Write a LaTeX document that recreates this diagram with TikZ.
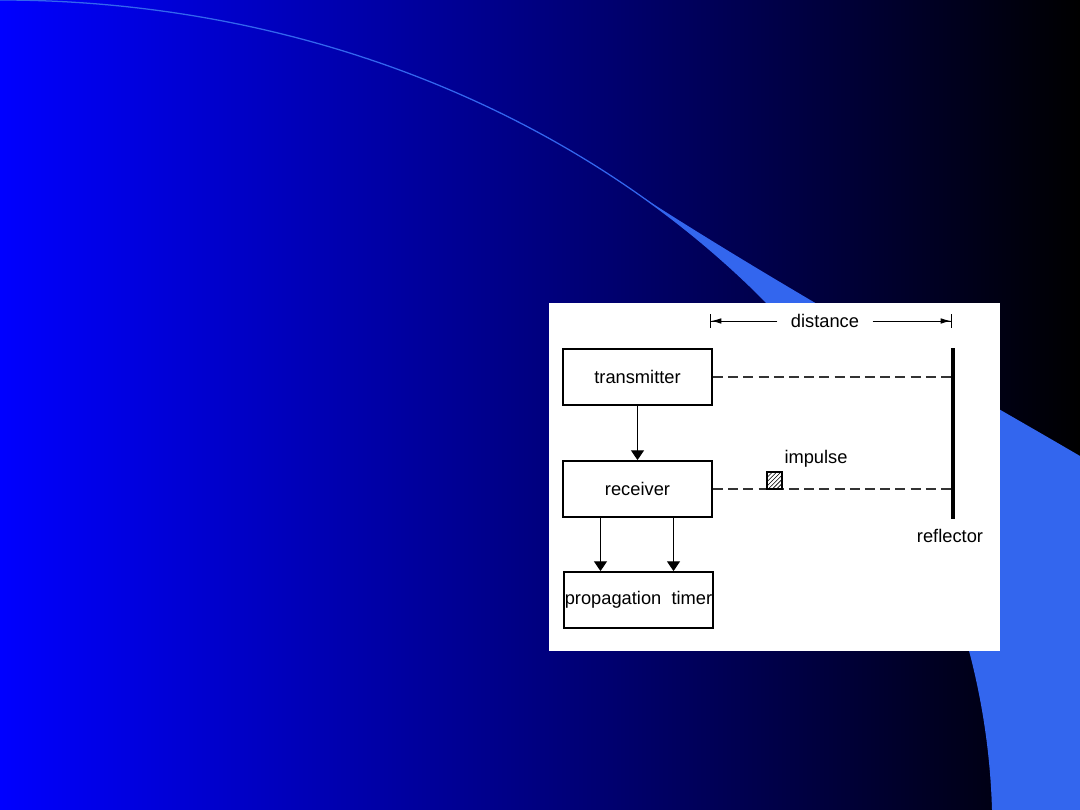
\documentclass[tikz,border=0pt]{standalone}
\usepackage{fontspec}
\setmainfont{Liberation Sans}
\usetikzlibrary{arrows.meta,patterns}
\definecolor{swoosh}{RGB}{51,102,238}

\begin{document}
\begin{tikzpicture}[x=0.025cm, y=-0.025cm,
  every node/.style={font=\fontsize{13}{15}\selectfont},
  unit/.style={draw, line width=1.3pt, fill=white, minimum width=3.725cm, minimum height=1.4cm, inner sep=0pt},
  flow/.style={line width=0.7pt, -{Triangle[width=0.32cm,length=0.24cm]}},
  echo/.style={line width=0.9pt, black!80, dash pattern=on 0.25cm off 0.13cm},
  dimline/.style={line width=0.7pt, -{Latex[length=0.26cm,width=0.14cm]Bar[width=0.33cm]}}]
  \useasboundingbox (0,0) rectangle (1080,810);
  \shade[left color=blue, right color=black] (0,0) rectangle (1080,810);
  \fill[swoosh] (643,197.5) .. controls (790,292) and (950,380) .. (1080,456) -- (1080,810) -- (992.7,810)
    arc[start angle=-1.38, end angle=-49.65, x radius=993, y radius=830] -- cycle;
  \draw[swoosh, line width=0.9pt] (0,0) arc[start angle=-90, end angle=-1.38, x radius=993, y radius=830];
  \fill[white] (549,303) rectangle (1000,651);

  \node[unit] (tx) at (637.5,377) {transmitter};
  \node[unit] (rx) at (637.5,489) {receiver};
  \node[unit] (pt) at (638.5,600) {propagation\ \ timer};
  \draw[flow] (tx) -- (rx);
  \draw[flow] ([xshift=-0.925cm]rx.south) -- ([xshift=-0.925cm]rx.south |- pt.north);
  \draw[flow] ([xshift=0.9cm]rx.south) -- ([xshift=0.9cm]rx.south |- pt.north);

  \coordinate (rtop) at (953,348);
  \coordinate (rbot) at (953,519);
  \draw[echo] (tx.east) -- (tx.east -| rtop);
  \draw[echo] (rx.east) -- (rx.east -| rtop);
  \draw[line width=2.3pt] (rtop) -- (rbot);
  \node (refl) at (950,536) {reflector};

  \node[draw, line width=0.9pt, minimum width=0.375cm, minimum height=0.42cm, inner sep=0pt,
    preaction={fill=white}, pattern=north east lines] (pulse) at (774.5,480.5) {};
  \node (imp) at (816,459) {impulse};

  \node[inner xsep=0.33cm, inner ysep=0pt] (dist) at (825,321) {distance};
  \coordinate (dl) at (710,321);
  \coordinate (dr) at (952,321);
  \draw[dimline] (dist) -- (dl);
  \draw[dimline] (dist) -- (dr);
\end{tikzpicture}
\end{document}
